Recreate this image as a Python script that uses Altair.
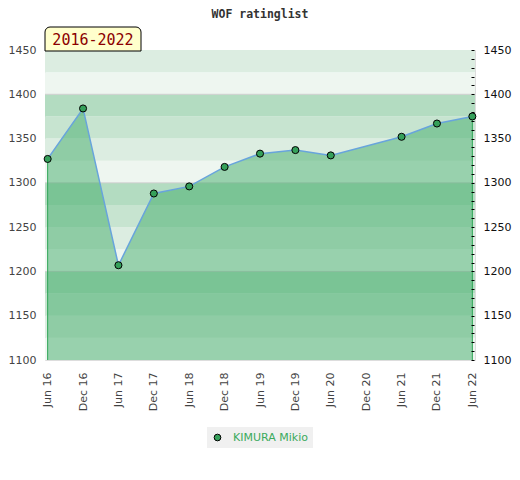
import json
import altair as alt
import pandas as pd

# ---- data ----
player = "KIMURA Mikio"
chart_title = "WOF ratinglist"
period_label = "2016-2022"

month_labels = ["Jun 16", "Dec 16", "Jun 17", "Dec 17", "Jun 18", "Dec 18", "Jun 19",
                "Dec 19", "Jun 20", "Dec 20", "Jun 21", "Dec 21", "Jun 22"]
tick_months = [0, 6, 12, 18, 24, 30, 36, 42, 48, 54, 60, 66, 72]

point_months = [0, 6, 12, 18, 24, 30, 36, 42, 48, 60, 66, 72]
ratings = [1327, 1384, 1207, 1288, 1296, 1318, 1333, 1337, 1331, 1352, 1367, 1375]

band_lows = [1100, 1125, 1150, 1175, 1200, 1225, 1250, 1275, 1300, 1325, 1350, 1375, 1400, 1425]
band_highs = [1125, 1150, 1175, 1200, 1225, 1250, 1275, 1300, 1325, 1350, 1375, 1400, 1425, 1450]
band_colors = ["#eef6f0", "#dcede1", "#c7e4d0", "#b3dcc1",
               "#eef6f0", "#dcede1", "#c7e4d0", "#b3dcc1",
               "#eef6f0", "#dcede1", "#c7e4d0", "#b3dcc1",
               "#eef6f0", "#dcede1"]
grid_values = [1200, 1300, 1400]
left_ticks = [1100, 1150, 1200, 1250, 1300, 1350, 1400, 1450]
right_ticks = list(range(1100, 1451, 10))

Y_DOMAIN = [1100, 1450]
X_DOMAIN = [-0.45, 72.45]
FONT = "DejaVu Sans"
MONO = "DejaVu Sans Mono"

df = pd.DataFrame({"month": point_months, "rating": ratings, "player": player})
bands = pd.DataFrame({"lo": band_lows, "hi": band_highs, "c": band_colors})
grid = pd.DataFrame({"v": grid_values})
ends = df[df["month"].isin([point_months[0], point_months[-1]])]
note = pd.DataFrame({"t": [period_label]})

label_expr = json.dumps(month_labels) + "[round(datum.value/6)]"

def xenc():
    return alt.X("month:Q", scale=alt.Scale(domain=X_DOMAIN, nice=False, zero=False),
                 axis=alt.Axis(values=tick_months, labelExpr=label_expr, title=None,
                               labelAngle=270, labelOverlap=False, ticks=False,
                               domain=False, grid=False, labelPadding=12,
                               labelFont=FONT, labelFontSize=11, labelColor="#444444"))

def yscale():
    return alt.Scale(domain=Y_DOMAIN, nice=False, zero=False)

band_layer = alt.Chart(bands).mark_rect().encode(
    y=alt.Y("lo:Q", scale=yscale(),
            axis=alt.Axis(orient="left", values=left_ticks, format="d", title=None,
                          ticks=False, domain=False, grid=False, labelPadding=9,
                          labelFont=FONT, labelFontSize=11, labelColor="#444444")),
    y2="hi:Q",
    color=alt.Color("c:N", scale=None),
)

grid_layer = alt.Chart(grid).mark_rule(color="#cfcfcf", strokeWidth=1).encode(
    y=alt.Y("v:Q", scale=yscale(), axis=None),
)

area_layer = alt.Chart(df).mark_area(color="#41ac6a", opacity=0.5).encode(
    x=xenc(),
    y=alt.Y("rating:Q", scale=yscale(), axis=None),
    y2=alt.datum(Y_DOMAIN[0]),
)

end_layer = alt.Chart(ends).mark_rule(color="#2ea655", strokeWidth=1).encode(
    x=xenc(),
    y=alt.Y("rating:Q", scale=yscale(), axis=None),
    y2=alt.datum(Y_DOMAIN[0]),
)

line_layer = alt.Chart(df).mark_line(color="#68a4dc", strokeWidth=1.5).encode(
    x=xenc(),
    y=alt.Y("rating:Q", scale=yscale(), axis=None),
)

point_layer = alt.Chart(df).mark_point(filled=True, size=50, opacity=1,
                                       stroke="black", strokeWidth=1).encode(
    x=xenc(),
    y=alt.Y("rating:Q", scale=yscale(),
            axis=alt.Axis(orient="right", values=right_ticks, format="d", title=None,
                          labelExpr="datum.value % 50 == 0 ? datum.label : ''",
                          labelOverlap=False, zindex=2,
                          ticks=True, tickSize=3, tickColor="black", tickWidth=1,
                          tickOpacity=1, offset=-4,
                          domain=False, grid=False, labelPadding=9,
                          labelFont=FONT, labelFontSize=11, labelColor="#111111")),
    color=alt.Color("player:N", scale=alt.Scale(domain=[player], range=["#35a05a"]),
                    legend=alt.Legend(title=None, orient="none", legendX=162, legendY=377,
                                      fillColor="#f0f0f0", padding=5,
                                      symbolType="circle", symbolSize=45,
                                      symbolStrokeColor="black", symbolStrokeWidth=1,
                                      labelOffset=10, labelFont=FONT, labelFontSize=11,
                                      labelColor="#3aaa5c")),
)

box_layer = alt.Chart(note).mark_rect(fill="#ffffcc", stroke="black", strokeWidth=1,
                                     cornerRadiusTopLeft=5, cornerRadiusTopRight=5).encode(
    x=alt.value(0), x2=alt.value(96), y=alt.value(-23), y2=alt.value(1),
)
box_text = alt.Chart(note).mark_text(font=MONO, fontSize=15, color="#8b0000",
                                     align="center", baseline="middle").encode(
    x=alt.value(48), y=alt.value(-10), text="t:N",
)

chart = alt.layer(
    band_layer, grid_layer, area_layer, end_layer, line_layer, point_layer,
    box_layer, box_text,
).resolve_scale(y="independent").properties(
    width=430, height=310,
    title=alt.Title(chart_title, font=MONO, fontSize=11.5, fontWeight="bold",
                    color="#333333", anchor="middle", offset=6),
    autosize=alt.AutoSizeParams(type="none"),
    padding={"left": 37, "top": 42, "right": 37, "bottom": 100},
).configure_view(stroke="#d0d0d0", strokeWidth=1).configure_axisX(
    labelOverlap=False
).configure(background="white")

chart.save("out.html", embed_options={"renderer": "svg", "actions": False})
